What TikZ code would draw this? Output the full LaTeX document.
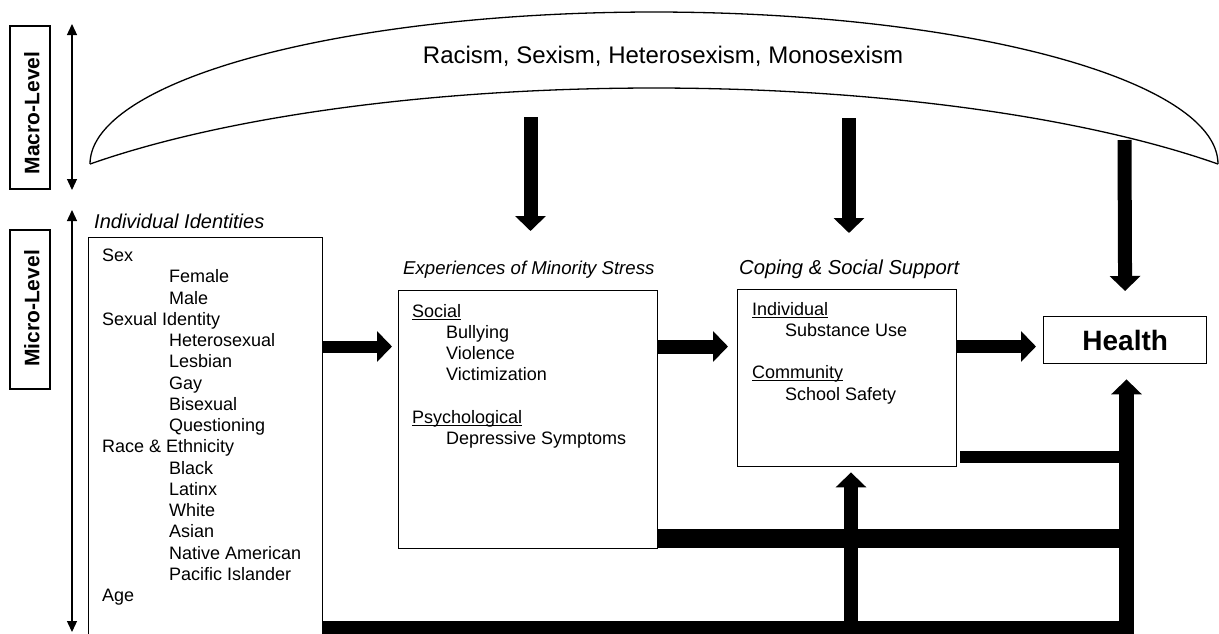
\documentclass[tikz,border=0pt]{standalone}
\usepackage{fontspec}
\setmainfont{Liberation Sans}
\usetikzlibrary{arrows.meta}
\newcommand\myul[1]{\setbox0\hbox{#1}\rlap{\rule[-2.6pt]{\wd0}{1.1pt}}\box0}
\begin{document}
\begin{tikzpicture}[x=1pt,y=-1pt,
  box/.style={draw, line width=1.4pt, inner sep=0pt},
  body/.style={font=\fontsize{18}{21}\selectfont, anchor=base west, inner sep=0pt},
  hdr/.style={font=\fontsize{#1}{22}\selectfont\itshape, anchor=base west, inner sep=0pt},
  lvl/.style={font=\fontsize{21}{24}\selectfont\bfseries, rotate=90, anchor=base, inner sep=0pt},
  dblarrow/.style={line width=1.3pt, {Triangle[length=11pt,width=10pt]}-{Triangle[length=11pt,width=10pt]}},
  fatarrow/.style={line width=#1, -{Triangle[length=15pt,width=30pt]}},
  fatbar/.style={line width=#1},
]
\useasboundingbox (0,0) rectangle (1219,633);
\clip (0,0) rectangle (1219,633);

% level labels
\node[box, minimum width=40pt, minimum height=163pt] (macro) at (30,107.5) {};
\node[lvl] (macrot) at (39.3,113) {Macro-Level};
\node[box, minimum width=40pt, minimum height=159pt] (micro) at (30,309.5) {};
\node[lvl] (microt) at (39.3,308.5) {Micro-Level};

\coordinate (ma1) at (72,24);
\coordinate (ma2) at (72,190);
\draw[dblarrow] (ma1) -- (ma2);
\coordinate (mi1) at (72,210);
\coordinate (mi2) at (72,632);
\draw[dblarrow] (mi1) -- (mi2);

% crescent
\draw[line width=1.3pt] plot[domain=180:0, samples=150] ({654+564*cos(\x)},{164-152*sin(\x)});
\draw[line width=1.3pt] plot[domain=141.7:38.3, samples=150] ({654+718.8*cos(\x)},{288-200*sin(\x)});
\node[font=\fontsize{24}{28}\selectfont, anchor=base, inner sep=0pt] (title) at (663,63) {Racism, Sexism, Heterosexism, Monosexism};

% boxes
\node[box, anchor=north west, minimum width=234pt, minimum height=420pt] (ind) at (88,237) {};
\node[box, anchor=north west, minimum width=259pt, minimum height=258pt] (exp) at (398,290) {};
\node[box, anchor=north west, minimum width=219pt, minimum height=177pt] (cop) at (737,289) {};
\node[box, anchor=north west, minimum width=163pt, minimum height=47pt,
      font=\fontsize{28}{32}\selectfont\bfseries] (health) at (1043,316) {Health};

% headers
\node[hdr=20] (indh) at (94,228) {Individual Identities};
\node[hdr=18.6] (exph) at (403,274) {Experiences of Minority Stress};
\node[hdr=20.2] (coph) at (739,274) {Coping \& Social Support};

% box contents
\foreach \tx/\ty/\tt [count=\i] in {
102/261.5/Sex,
169/282.75/Female,
169/304/Male,
102/325.25/Sexual Identity,
169/346.5/Heterosexual,
169/367.75/Lesbian,
169/389/Gay,
169/410.25/Bisexual,
169/431.5/Questioning,
102/452.75/Race \& Ethnicity,
169/474/Black,
169/495.25/Latinx,
169/516.5/White,
169/537.75/Asian,
169/559/Native American,
169/580.25/Pacific Islander,
102/601.5/Age}
  \node[body] (id\i) at (\tx,\ty) {\tt};

\foreach \tx/\ty/\tt [count=\i] in {
412/317/\myul{Social},
446/338.25/Bullying,
446/359.5/Violence,
446/380.75/Victimization,
412/423.25/\myul{Psychological},
446/444.5/Depressive Symptoms}
  \node[body] (ex\i) at (\tx,\ty) {\tt};

\foreach \tx/\ty/\tt [count=\i] in {
752/315/\myul{Individual},
785/336.25/Substance Use,
752/378.75/\myul{Community},
785/400/School Safety}
  \node[body] (co\i) at (\tx,\ty) {\tt};

% main horizontal arrows
\coordinate (r1) at (0,346.5);
\draw[fatarrow=12pt, shorten >=6pt] (ind.east |- r1) -- (exp.west |- r1);
\draw[fatarrow=14pt, shorten >=9pt] (exp.east |- r1) -- (cop.west |- r1);
\draw[fatarrow=13pt, shorten >=7pt] (cop.east |- r1) -- (health.west |- r1);

% down arrows from macro level
\coordinate (d1) at (530.5,117);
\coordinate (d1e) at (530.5,231);
\draw[fatarrow=14pt] (d1) -- (d1e);
\coordinate (d2) at (849,118);
\coordinate (d2e) at (849,233);
\draw[fatarrow=14pt] (d2) -- (d2e);
\coordinate (d3) at (1124.5,140);
\draw[fatarrow=14pt, shorten >=25pt] (d3) -- (health.north);

% bottom network
\coordinate (tb) at (1126.5,645);
\coordinate (yb) at (0,630);
\coordinate (bbe) at (1134,630);
\coordinate (ym) at (0,538.5);
\coordinate (rb) at (960,457);
\coordinate (ub) at (851,645);
\draw[fatbar=18pt] (ind.east |- yb) -- (bbe);
\draw[fatbar=19pt] (exp.east |- ym) -- (tb |- ym);
\draw[fatbar=12pt] (rb) -- (tb |- rb);
\draw[fatarrow=15pt, shorten >=15pt] (tb) -- (tb |- health.south);
\draw[fatarrow=14pt, shorten >=5pt] (ub) -- (ub |- cop.south);
\end{tikzpicture}
\end{document}
